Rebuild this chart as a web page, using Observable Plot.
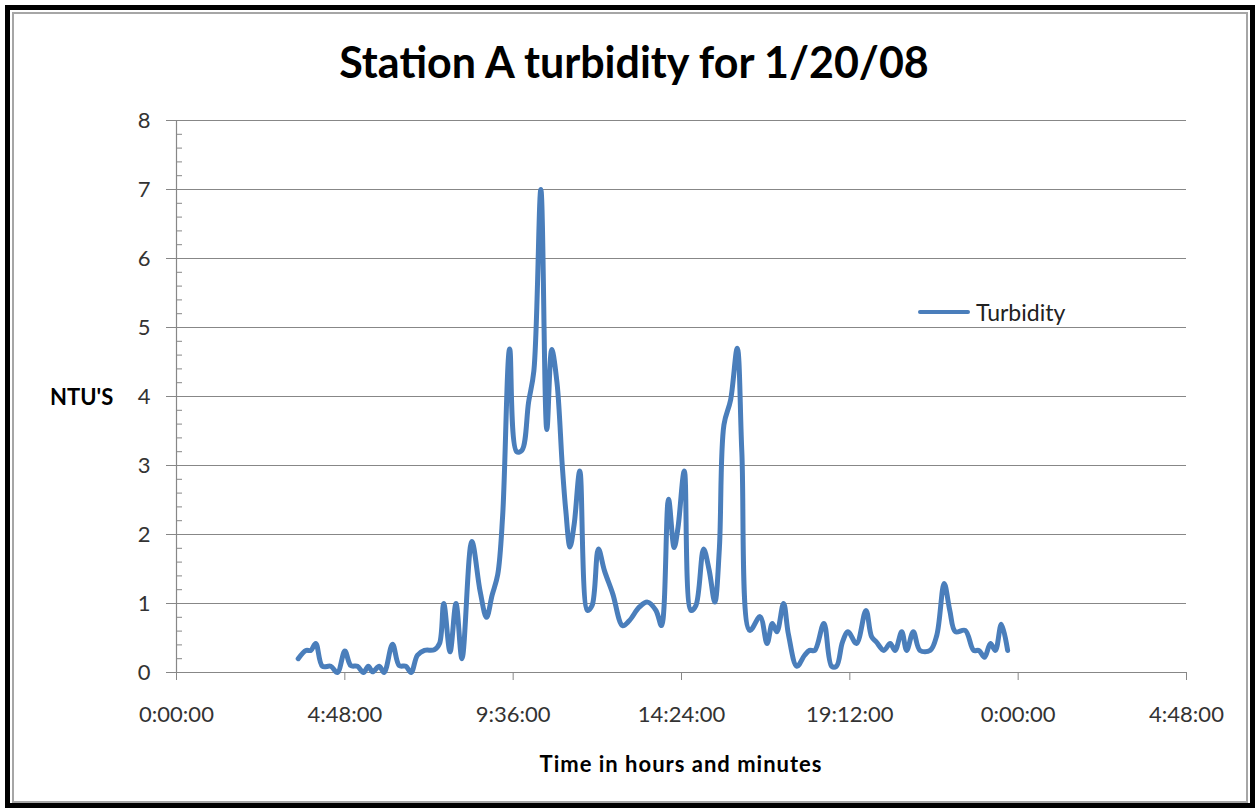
<!DOCTYPE html>
<html><head><meta charset="utf-8">
<script src="https://cdn.jsdelivr.net/npm/d3@7"></script>
<script src="https://cdn.jsdelivr.net/npm/@observablehq/plot@0.6"></script>
<style>
html,body{margin:0;padding:0;background:#fff;width:1259px;height:812px;overflow:hidden;font-family:Lato,"Noto Sans",sans-serif;}
#outer{position:absolute;left:5px;top:5px;width:1250px;height:803px;border:5px solid #000;box-sizing:border-box;}
#inner{position:absolute;left:12px;top:12px;width:1236px;height:791px;border:2px solid #a6a6a6;box-sizing:border-box;}
#title{position:absolute;left:0;width:1268px;top:34px;text-align:center;font-weight:700;font-size:43px;color:#000;line-height:56px;}
#ylab{position:absolute;left:50px;top:383px;font-weight:700;font-size:22px;line-height:28px;}
#xlab{position:absolute;left:0;width:1362px;top:750px;text-align:center;font-weight:700;font-size:22px;letter-spacing:1px;line-height:28px;}
#legend{position:absolute;left:918px;top:297px;font-size:23px;line-height:30px;display:flex;align-items:center;color:#222;}
#legend .sw{width:52px;height:4px;background:#4a7ebb;border-radius:2px;margin-right:6px;}
#chart{position:absolute;left:0;top:100px;}
</style></head>
<body>
<div id="outer"></div>
<div id="inner"></div>
<div id="title">Station A turbidity for 1/20/08</div>
<div id="ylab">NTU'S</div>
<div id="xlab">Time in hours and minutes</div>
<div id="chart"></div>
<div id="legend"><div class="sw"></div><span>Turbidity</span></div>
<script>
// time of day in hours
const hours = [3.47,3.69,3.83,3.97,4.16,4.4,4.59,4.8,4.97,5.16,5.33,5.47,5.59,5.78,5.92,6.16,6.35,6.54,6.69,6.87,7.07,7.35,7.5,7.62,7.8,7.97,8.14,8.42,8.66,8.84,9.0,9.16,9.3,9.5,9.7,9.85,10.04,10.19,10.39,10.56,10.7,10.85,11.0,11.1,11.22,11.34,11.5,11.72,11.85,12.03,12.2,12.44,12.72,12.91,13.2,13.43,13.67,13.83,14.03,14.19,14.3,14.48,14.67,14.81,15.03,15.19,15.35,15.48,15.61,15.8,15.99,16.12,16.35,16.64,16.84,16.99,17.12,17.31,17.45,17.69,17.91,18.05,18.2,18.46,18.68,18.82,18.99,19.15,19.39,19.66,19.82,19.96,20.17,20.35,20.49,20.68,20.82,21.01,21.2,21.49,21.68,21.89,22.05,22.21,22.49,22.73,22.88,23.04,23.21,23.35,23.52,23.7];
// turbidity in NTU
const ntu = [0.2,0.32,0.32,0.42,0.09,0.09,0.0,0.31,0.1,0.09,0.0,0.09,0.01,0.09,0.0,0.41,0.1,0.09,0.0,0.25,0.32,0.33,0.42,1.0,0.3,1.0,0.2,1.9,1.17,0.8,1.12,1.42,2.27,4.69,3.2,3.22,3.92,4.37,7.0,3.52,4.68,4.2,3.0,2.35,1.82,2.15,2.92,0.9,0.97,1.79,1.48,1.14,0.68,0.75,0.95,1.02,0.9,0.68,2.51,1.81,2.1,2.92,0.9,0.97,1.79,1.48,1.02,1.8,3.59,3.95,4.7,3.2,0.61,0.81,0.42,0.71,0.59,1.0,0.55,0.09,0.25,0.32,0.32,0.71,0.09,0.09,0.44,0.59,0.42,0.9,0.52,0.44,0.32,0.42,0.32,0.59,0.32,0.59,0.32,0.32,0.54,1.29,0.9,0.59,0.61,0.32,0.32,0.22,0.42,0.32,0.7,0.32];

const xTicks = [0, 4.8, 9.6, 14.4, 19.2, 24, 28.8];
const xTickLabels = ["0:00:00","4:48:00","9:36:00","14:24:00","19:12:00","0:00:00","4:48:00"];
const yTicks = [0,1,2,3,4,5,6,7,8];
const yMinor = d3.range(0, 41).map(i => i / 5);

const data = hours.map((h, i) => ({h, v: ntu[i]}));
const grey = "#878787";

const chart = Plot.plot({
  width: 1259, height: 640,
  marginLeft: 176, marginRight: 73, marginTop: 20, marginBottom: 68,
  x: {domain: [0, 28.8]},
  y: {domain: [0, 8]},
  style: {fontFamily: "Lato, sans-serif", background: "transparent", overflow: "visible"},
  marks: [
    Plot.gridY(yTicks.filter(d => d > 0), {stroke: grey, strokeOpacity: 1, strokeWidth: 1.2}),
    Plot.axisY({ticks: yMinor, tickSize: 6, dx: 6, tickFormat: null, text: null, label: null, stroke: grey, strokeOpacity: 1}),
    Plot.axisY({ticks: yTicks, tickSize: 10, tickPadding: 16, fontSize: 22, stroke: grey, strokeOpacity: 1, fill: "#333", label: null}),
    Plot.axisX({ticks: xTicks, tickFormat: d => xTickLabels[xTicks.indexOf(d)], tickSize: 8, tickPadding: 26, fontSize: 22, stroke: grey, strokeOpacity: 1, fill: "#333", label: null}),
    Plot.ruleY([0], {stroke: grey, strokeWidth: 1.2}),
    Plot.ruleX([0], {stroke: grey, strokeWidth: 1.2}),
    Plot.line(data, {x: "h", y: "v", stroke: "#4a7ebb", strokeWidth: 5, curve: "catmull-rom", strokeLinejoin: "round"})
  ]
});
document.getElementById("chart").appendChild(chart);
</script>
</body></html>
